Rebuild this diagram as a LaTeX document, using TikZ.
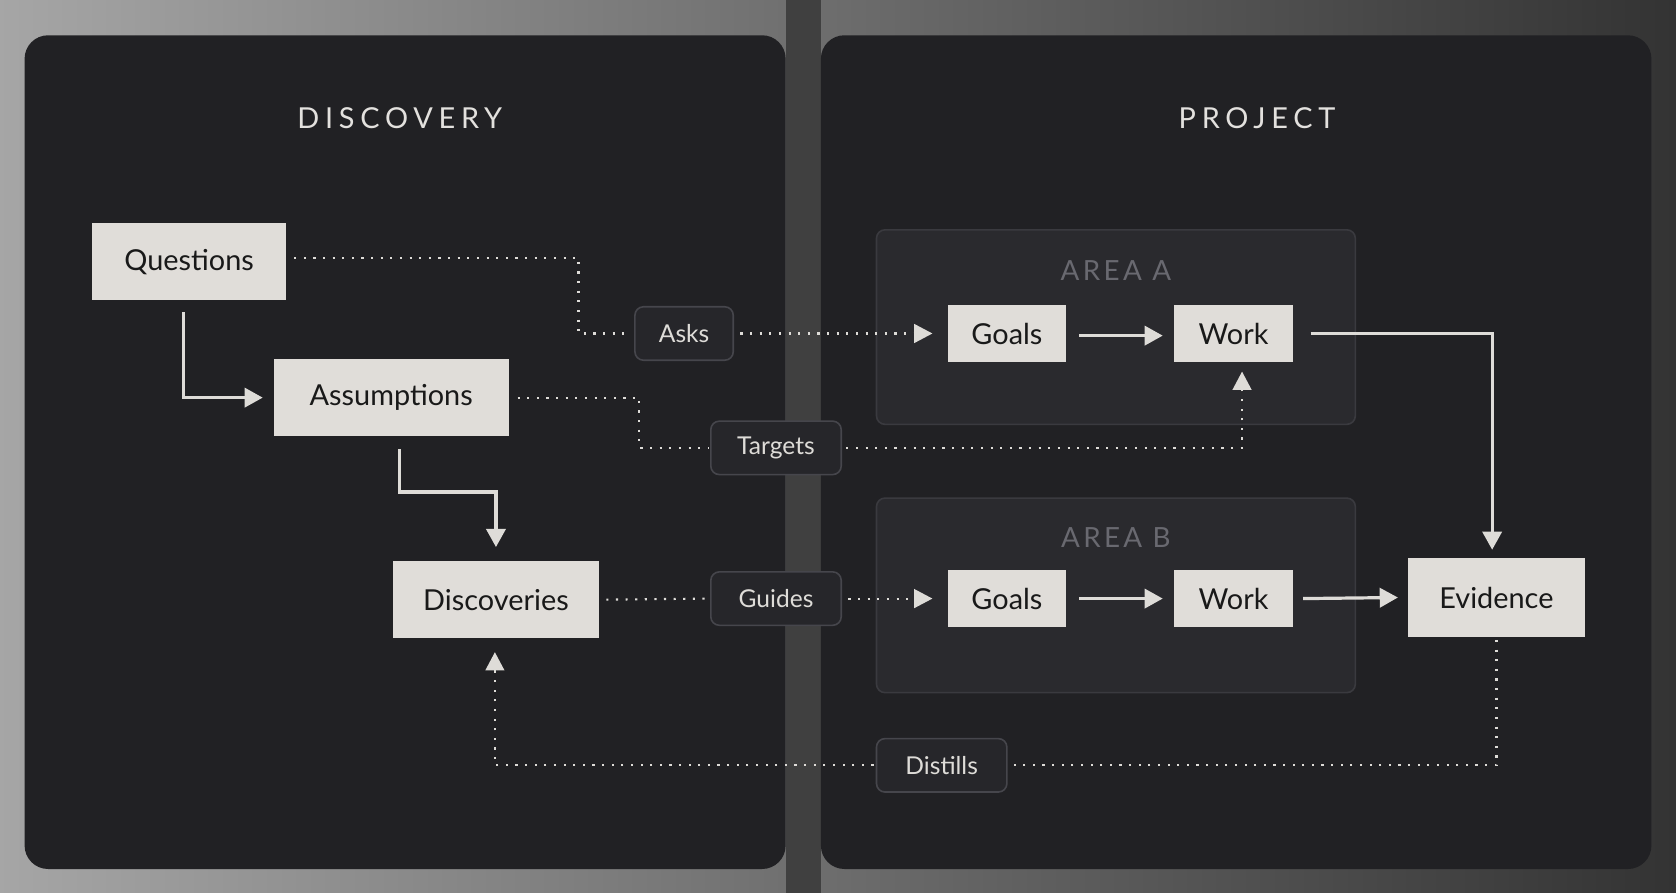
\documentclass[tikz,border=0pt]{standalone}
\usepackage{fontspec}
\setmainfont{Lato}
\usetikzlibrary{positioning,arrows.meta}
\definecolor{panel}{RGB}{33,33,36}
\definecolor{boxfill}{RGB}{224,221,217}
\definecolor{areafill}{RGB}{42,42,46}
\definecolor{areaedge}{RGB}{58,58,63}
\definecolor{pillfill}{RGB}{38,38,42}
\definecolor{pilledge}{RGB}{70,70,76}
\definecolor{linec}{RGB}{222,220,216}
\definecolor{arealabel}{RGB}{105,105,112}
\tikzset{
  box/.style={fill=boxfill, text=black!90, font=\fontsize{27}{30}\selectfont, inner sep=0pt},
  pill/.style={fill=pillfill, draw=pilledge, line width=1.5pt, rounded corners=8pt, text=linec,
    minimum height=50pt, font=\fontsize{23}{26}\selectfont, inner sep=0pt},
  flow/.style={draw=linec, line width=3pt, -{Triangle[length=17pt,width=18pt]}},
  link/.style={draw=linec, line width=2pt, dotted, dash pattern=on 2pt off 7pt},
  linktip/.style={link, -{Triangle[length=17pt,width=18pt,line width=0pt]}},
  title/.style={text=linec!85, font=\addfontfeatures{LetterSpace=20}\fontsize{27}{30}\selectfont},
}
\begin{document}
\begin{tikzpicture}[x=1pt,y=-1pt]
		% Background and panels
		\shade[left color=black!35, right color=black!80] (0,0) rectangle (1568,835);
		\useasboundingbox (0,0) rectangle (1568,835);
		\fill[black!75] (735,0) rectangle (768,835);
		\fill[panel] (23,33) [rounded corners=22pt] rectangle (735,813);
		\fill[panel] (768,33) [rounded corners=22pt] rectangle (1545,813);
		\node[title] (tdisc) at (374,111) {DISCOVERY};
		\node[title] (tproj) at (1176,111) {PROJECT};

		% Areas
		\draw[fill=areafill, draw=areaedge, line width=1.5pt, rounded corners=8pt] (820,215) rectangle (1268,397);
		\draw[fill=areafill, draw=areaedge, line width=1.5pt, rounded corners=8pt] (820,466) rectangle (1268,648);
		\node[text=arealabel, font=\addfontfeatures{LetterSpace=12}\fontsize{26}{30}\selectfont] (la) at (1044,253) {AREA A};
		\node[text=arealabel, font=\addfontfeatures{LetterSpace=12}\fontsize{26}{30}\selectfont] (lb) at (1044,503) {AREA B};

		% Define nodes
		\node[box, minimum width=182pt, minimum height=72pt] (q) at (177,245) {Questions};
		\node[box, minimum width=220pt, minimum height=72pt] (as) at (366,372) {Assumptions};
		\node[box, minimum width=192pt, minimum height=72pt] (d) at (464,561) {Discoveries};
		\node[box, minimum width=166pt, minimum height=73pt] (ev) at (1400,559) {Evidence};
		\node[box, minimum width=111pt, minimum height=53pt] (ga) at (942,312) {Goals};
		\node[box, minimum width=112pt, minimum height=53pt] (wa) at (1154,312) {Work};
		\node[box, minimum width=111pt, minimum height=53pt] (gb) at (942,560) {Goals};
		\node[box, minimum width=112pt, minimum height=53pt] (wb) at (1154,560) {Work};

		\node[pill, minimum width=92pt] (asks) at (640,312) {Asks};
		\node[pill, minimum width=122pt] (tg) at (726,419) {Targets};
		\node[pill, minimum width=122pt] (gd) at (726,560) {Guides};
		\node[pill, minimum width=122pt] (di) at (881,716) {Distills};

		% Connect the nodes
		\draw[flow] ([xshift=-5pt,yshift=-11pt]q.south) |- ([xshift=-10pt]as.west);
		\draw[flow] ([xshift=8pt,yshift=-12pt]as.south) -- ++(0,40) -| ([yshift=13pt]d.north);
		\draw[flow] ([xshift=12pt,yshift=-2pt]ga.east) -- ([xshift=-10pt,yshift=-2pt]wa.west);
		\draw[flow] ([xshift=12pt]gb.east) -- ([xshift=-10pt]wb.west);
		\draw[flow] ([xshift=16pt]wa.east) -| ([xshift=-4pt,yshift=8pt]ev.north);
		\draw[flow] ([xshift=9pt]wb.east) -- ([xshift=-9pt]ev.west);

		\draw[link] ([xshift=7pt,yshift=4pt]q.east) -- ++(266,0) |- ([xshift=-4pt]asks.west);
		\draw[linktip] ([xshift=6pt]asks.east) -- ([xshift=-14pt]ga.west);
		\draw[link] ([xshift=8pt]as.east) -- ++(114,0) |- ([xshift=-2pt]tg.west);
		\draw[linktip] ([xshift=4pt]tg.east) -| ([xshift=8pt,yshift=-9pt]wa.south);
		\draw[link] ([xshift=7pt]d.east) -- ([xshift=-2pt]gd.west);
		\draw[linktip] ([xshift=6pt]gd.east) -- ([xshift=-14pt]gb.west);
		\draw[link] ([yshift=-3pt]ev.south) |- ([xshift=3pt]di.east);
		\draw[linktip] ([xshift=-2pt]di.west) -| ([xshift=-1pt,yshift=-13pt]d.south);
	\end{tikzpicture}
\end{document}
